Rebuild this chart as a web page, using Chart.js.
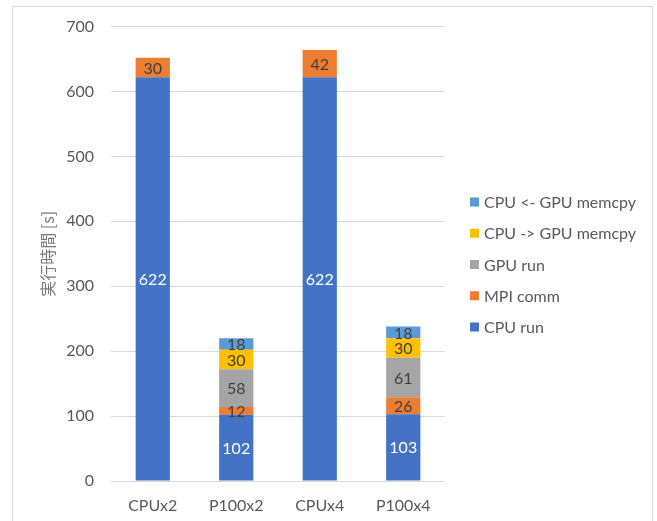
<!DOCTYPE html>
<html>
<head>
<meta charset="utf-8">
<script src="https://cdn.jsdelivr.net/npm/chart.js@4/dist/chart.umd.min.js"></script>
<style>
  html, body { margin: 0; padding: 0; background: #ffffff; }
  #wrap { position: relative; width: 657px; height: 521px; }
</style>
</head>
<body>
<div id="wrap"><canvas id="chart" width="657" height="521"></canvas></div>
<script>
// Configurations compared
const categories = ['CPUx2', 'P100x2', 'CPUx4', 'P100x4'];

// Time breakdown per configuration [s]
const cpuRun       = [622, 102, 622, 103];
const mpiComm      = [30, 12, 42, 26];
const gpuRun       = [0, 58, 0, 61];
const cpuToGpuCopy = [0, 30, 0, 30];
const gpuToCpuCopy = [0, 18, 0, 18];

// Axis ticks
const yTicks = [0, 100, 200, 300, 400, 500, 600, 700];

const FONT = 'Lato, "Noto Sans CJK JP", sans-serif';
const TEXT_GRAY = '#595959';

// Chart frame (left, top, right edges)
const framePlugin = {
  id: 'frame',
  beforeDraw(chart) {
    const ctx = chart.ctx;
    ctx.save();
    ctx.fillStyle = '#ffffff';
    ctx.fillRect(0, 0, chart.width, chart.height);
    ctx.strokeStyle = '#d9d9d9';
    ctx.lineWidth = 1;
    ctx.beginPath();
    ctx.moveTo(12.5, chart.height);
    ctx.lineTo(12.5, 6.5);
    ctx.lineTo(652.5, 6.5);
    ctx.lineTo(652.5, chart.height);
    ctx.stroke();
    ctx.restore();
  }
};

// Value labels in the middle of each stacked segment
const segmentLabels = {
  id: 'segmentLabels',
  afterDatasetsDraw(chart) {
    const ctx = chart.ctx;
    ctx.save();
    ctx.font = '16px ' + FONT;
    ctx.textAlign = 'center';
    ctx.textBaseline = 'middle';
    chart.data.datasets.forEach((ds, i) => {
      const meta = chart.getDatasetMeta(i);
      if (meta.hidden) return;
      meta.data.forEach((bar, j) => {
        const v = ds.data[j];
        if (!v) return;
        ctx.fillStyle = ds.labelColor;
        ctx.fillText(String(v), bar.x, (bar.y + bar.base) / 2 + 1);
      });
    });
    ctx.restore();
  }
};

// Legend listed top-down in reverse stacking order
const sideLegend = {
  id: 'sideLegend',
  afterDraw(chart) {
    const ctx = chart.ctx;
    const items = chart.data.datasets.slice().reverse();
    const x0 = 470, y0 = 202, step = 31.25, box = 9;
    ctx.save();
    ctx.font = '16px ' + FONT;
    ctx.textAlign = 'left';
    ctx.textBaseline = 'middle';
    items.forEach((ds, k) => {
      const y = y0 + k * step;
      ctx.fillStyle = ds.backgroundColor;
      ctx.fillRect(x0, y - box / 2, box, box);
      ctx.fillStyle = TEXT_GRAY;
      ctx.fillText(ds.label, x0 + 14, y + 1);
    });
    ctx.restore();
  }
};

const datasets = [
  { label: 'CPU run',            data: cpuRun,       backgroundColor: '#4472C4', labelColor: '#ffffff' },
  { label: 'MPI comm',           data: mpiComm,      backgroundColor: '#ED7D31', labelColor: '#404040' },
  { label: 'GPU run',            data: gpuRun,       backgroundColor: '#A5A5A5', labelColor: '#404040' },
  { label: 'CPU -> GPU memcpy',  data: cpuToGpuCopy, backgroundColor: '#FFC000', labelColor: '#404040' },
  { label: 'CPU <- GPU memcpy',  data: gpuToCpuCopy, backgroundColor: '#5B9BD5', labelColor: '#404040' }
].map(d => Object.assign(d, {
  categoryPercentage: 1,
  barPercentage: 0.41,
  borderWidth: 0
}));

new Chart(document.getElementById('chart'), {
  type: 'bar',
  data: { labels: categories, datasets },
  options: {
    responsive: false,
    animation: false,
    layout: { padding: { left: 0, top: 24, right: 212, bottom: 0 } },
    plugins: {
      legend: { display: false },
      tooltip: { enabled: false }
    },
    scales: {
      x: {
        stacked: true,
        grid: { display: false },
        border: { display: false },
        ticks: { color: TEXT_GRAY, font: { family: FONT, size: 16 }, padding: 7 },
        afterFit(scale) { scale.height = 40; }
      },
      y: {
        stacked: true,
        min: 0,
        max: 700,
        afterBuildTicks(scale) { scale.ticks = yTicks.map(v => ({ value: v })); },
        grid: { color: '#d9d9d9', lineWidth: 1, drawTicks: false },
        border: { display: false },
        ticks: { color: TEXT_GRAY, font: { family: FONT, size: 16 }, padding: 17 },
        title: {
          display: true,
          text: '実行時間 [s]',
          color: '#7a7a7a',
          font: { family: '"Noto Sans CJK JP", Lato, sans-serif', size: 16 },
          padding: { top: 38, bottom: 0 }
        },
        afterFit(scale) { scale.width = 111; }
      }
    }
  },
  plugins: [framePlugin, segmentLabels, sideLegend]
});
</script>
</body>
</html>
